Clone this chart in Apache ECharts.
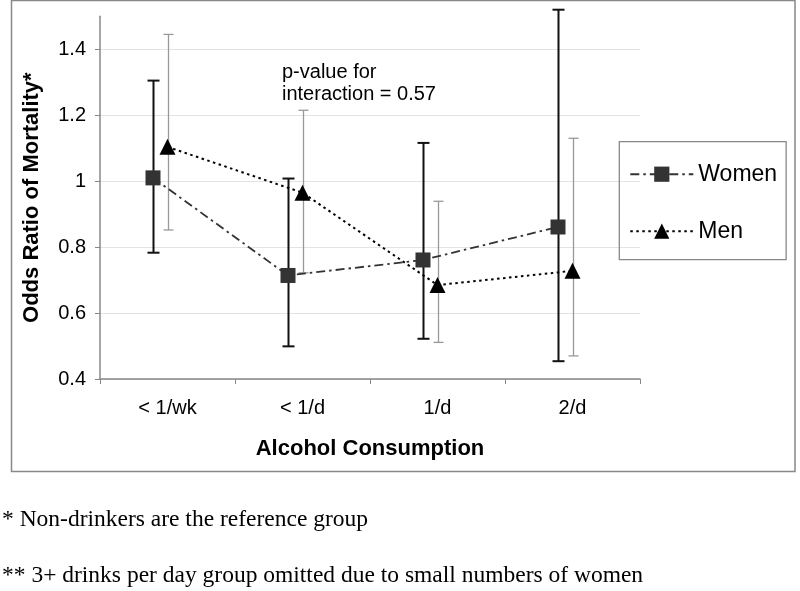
<!DOCTYPE html>
<html><head><meta charset="utf-8">
<script src="https://cdn.jsdelivr.net/npm/echarts@6/dist/echarts.min.js"></script>
<style>html,body{margin:0;padding:0;background:#fff}#c{width:800px;height:591px}</style>
</head><body><div id="c"></div>
<script>
const categories = ['< 1/wk', '< 1/d', '1/d', '2/d'];
const womenOR   = [1.01, 0.714, 0.761, 0.861];
const womenLow  = [0.783, 0.499, 0.522, 0.454];
const womenHigh = [1.305, 1.008, 1.116, 1.52];
const menOR     = [1.104, 0.965, 0.685, 0.728];
const menLow    = [0.852, 0.722, 0.511, 0.470];
const menHigh   = [1.445, 1.215, 0.939, 1.130];
const yTicks    = [0.4, 0.6, 0.8, 1, 1.2, 1.4];
const yMin = 0.4, yMax = 1.5, yStep = 0.2;
const annotation = 'p-value for\ninteraction = 0.57';
const footnotes = ['* Non-drinkers are the reference group',
                   '** 3+ drinks per day group omitted due to small numbers of women'];

const SANS = '"Liberation Sans", Arial, sans-serif';
const SERIF = '"Liberation Serif", "Times New Roman", serif';

function errorBarRenderer(cap, color, width) {
  return function (params, api) {
    const i = api.value(0);
    const lo = api.coord([i, api.value(1)]);
    const hi = api.coord([i, api.value(2)]);
    const x = Math.round(lo[0]) + 0.5;
    const st = { stroke: color, lineWidth: width };
    return { type: 'group', children: [
      { type: 'line', shape: { x1: x, y1: hi[1], x2: x, y2: lo[1] }, style: st },
      { type: 'line', shape: { x1: x - cap / 2, y1: hi[1], x2: x + cap / 2, y2: hi[1] }, style: st },
      { type: 'line', shape: { x1: x - cap / 2, y1: lo[1], x2: x + cap / 2, y2: lo[1] }, style: st }
    ]};
  };
}

const chart = echarts.init(document.getElementById('c'), null, { renderer: 'canvas' });
const gridColors = yTicks.map(() => '#e3e3e3').concat(['rgba(0,0,0,0)']);

chart.setOption({
  animation: false,
  backgroundColor: '#fff',
  textStyle: { fontFamily: SANS },
  grid: [
    { left: 100, right: 160, top: 16.3, bottom: 212 },
    { left: 85.5, right: 174.5, top: 16.3, bottom: 212 }
  ],
  xAxis: [
    { type: 'category', data: categories, gridIndex: 0, boundaryGap: true,
      axisLine: { lineStyle: { color: '#888', width: 1.5 } },
      axisTick: { show: true, length: 5, alignWithLabel: false, lineStyle: { color: '#888' } },
      axisLabel: { color: '#000', fontSize: 20, margin: 19, fontFamily: SANS },
      name: 'Alcohol Consumption', nameLocation: 'middle', nameGap: 59,
      nameTextStyle: { fontSize: 22, fontWeight: 'bold', color: '#000', fontFamily: SANS },
      splitLine: { show: false } },
    { type: 'category', data: categories, gridIndex: 1, show: false }
  ],
  yAxis: [
    { type: 'value', gridIndex: 0, min: yMin, max: yMax, interval: yStep,
      axisLine: { show: true, lineStyle: { color: '#888', width: 1.5 } },
      axisTick: { show: true, length: 5, lineStyle: { color: '#888' }, customValues: yTicks },
      axisLabel: { color: '#000', fontSize: 20, margin: 14, fontFamily: SANS, customValues: yTicks,
        formatter: v => (yTicks.some(t => Math.abs(t - v) < 1e-9) ? String(+v.toFixed(2)) : '') },
      splitLine: { show: true, lineStyle: { color: gridColors, width: 1 } },
      name: 'Odds Ratio of Mortality*', nameLocation: 'middle', nameGap: 57,
      nameTextStyle: { fontSize: 22, fontWeight: 'bold', color: '#000', fontFamily: SANS } },
    { type: 'value', gridIndex: 1, min: yMin, max: yMax, interval: yStep, show: false }
  ],
  legend: {
    orient: 'vertical', left: 619.3, top: 141.7,
    data: ['Women', 'Men'],
    itemWidth: 63, itemHeight: 19, itemGap: 34,
    padding: [21, 9, 17, 10],
    borderColor: '#888', borderWidth: 1.3,
    textStyle: { fontSize: 23, color: '#000', fontFamily: SANS },
    selectedMode: false
  },
  series: [
    { name: 'Women', type: 'line', xAxisIndex: 1, yAxisIndex: 1, data: womenOR,
      symbol: 'rect', symbolSize: 15, z: 5,
      itemStyle: { color: '#333' },
      lineStyle: { color: '#333', width: 1.8, type: [9, 4, 2.5, 4] } },
    { name: 'Men', type: 'line', xAxisIndex: 0, yAxisIndex: 0, data: menOR,
      symbol: 'triangle', symbolSize: [16, 16], z: 5,
      itemStyle: { color: '#000' },
      lineStyle: { color: '#000', width: 2, type: [2.5, 3.5] } },
    { name: 'WomenCI', type: 'custom', xAxisIndex: 1, yAxisIndex: 1, clip: false, z: 2,
      data: categories.map((c, i) => [i, womenLow[i], womenHigh[i]]),
      encode: { x: 0, y: [1, 2] },
      renderItem: errorBarRenderer(12, '#111', 2) },
    { name: 'MenCI', type: 'custom', xAxisIndex: 0, yAxisIndex: 0, clip: false, z: 2,
      data: categories.map((c, i) => [i, menLow[i], menHigh[i]]),
      encode: { x: 0, y: [1, 2] },
      renderItem: errorBarRenderer(10, '#999', 1.3) }
  ],
  graphic: [
    { type: 'rect', shape: { x: 11.5, y: 0.5, width: 783.5, height: 471 },
      style: { fill: 'none', stroke: '#888', lineWidth: 1.5 }, silent: true, z: -1 },
    { type: 'text', left: 282, top: 61,
      style: { text: annotation, font: '20px ' + SANS, fill: '#000', lineHeight: 22 } },
    { type: 'text', x: 2, y: 520,
      style: { text: footnotes[0], font: '23.5px ' + SERIF, fill: '#000', verticalAlign: 'middle' } },
    { type: 'text', x: 2, y: 576,
      style: { text: footnotes[1], font: '23.5px ' + SERIF, fill: '#000', verticalAlign: 'middle' } }
  ]
});
</script>
</body></html>
